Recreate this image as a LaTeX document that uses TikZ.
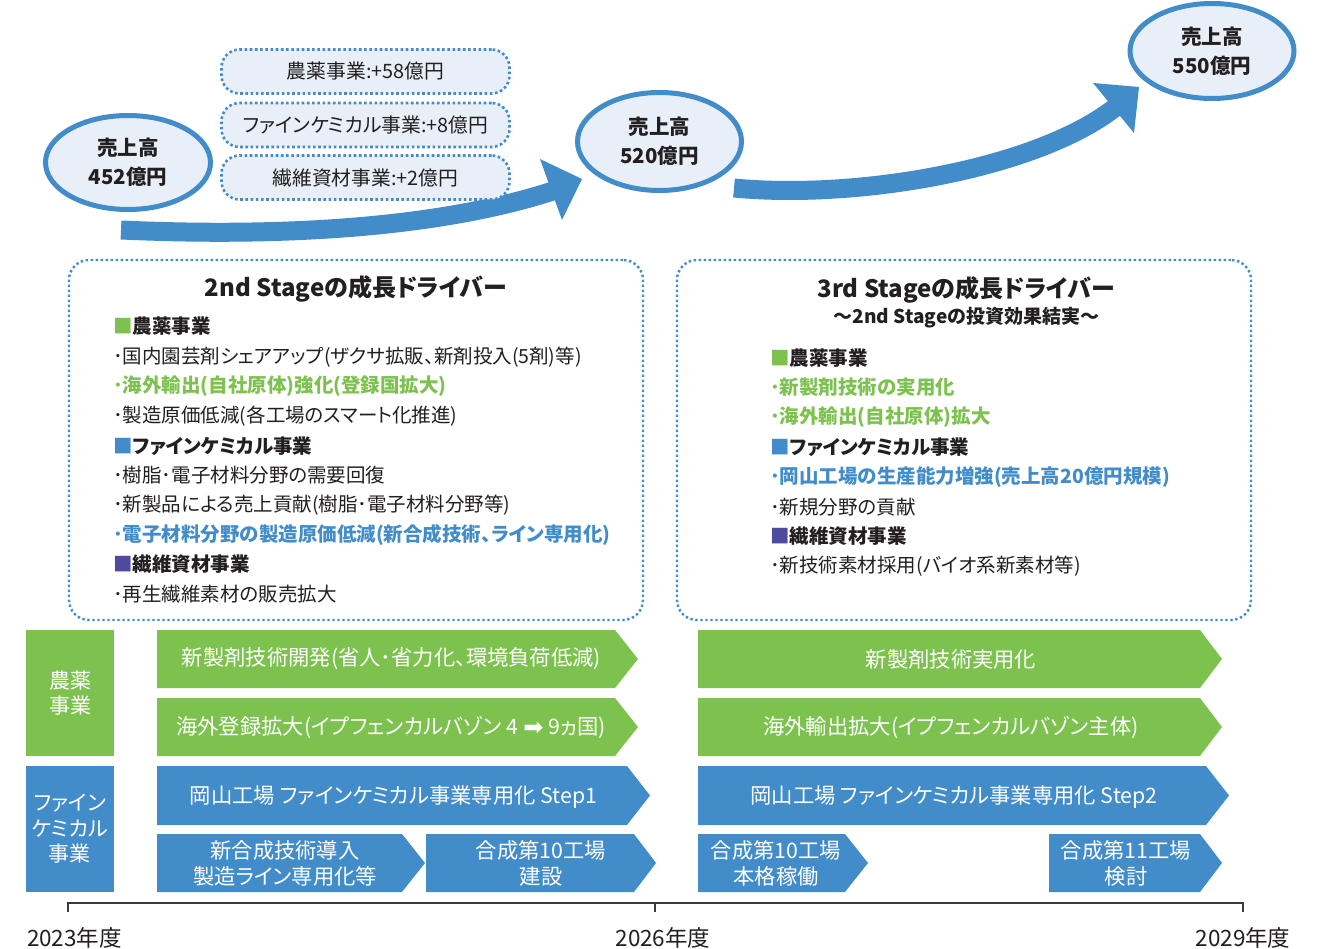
\documentclass[tikz,border=0pt]{standalone}
\usepackage{fontspec}
\setmainfont{Noto Sans CJK JP}[RawFeature={+palt}]
\newfontfamily\dejavu{DejaVu Sans}
\usetikzlibrary{shapes.geometric}
\definecolor{mblue}{HTML}{438CCA}
\definecolor{mgreen}{HTML}{7DC24F}
\definecolor{mpurple}{HTML}{4E4A9E}
\definecolor{lightbg}{HTML}{E8EFF8}
\definecolor{txt}{HTML}{231F20}
\definecolor{axisc}{HTML}{3A3A3A}
\tikzset{
  salesell/.style={ellipse, draw=mblue, line width=5pt, fill=lightbg, inner sep=0pt,
    align=center, text=txt, font=\bfseries\fontsize{20.5}{29}\selectfont},
  deltabox/.style={rectangle, rounded corners=18pt, draw=mblue, fill=lightbg, line width=2.6pt,
    dash pattern=on 2.6pt off 2.6pt, minimum width=288pt, minimum height=44pt,
    text=txt, font=\fontsize{19.8}{23}\selectfont},
  stagebox/.style={rectangle, rounded corners=20pt, draw=mblue, line width=2.4pt,
    dash pattern=on 2.4pt off 2.6pt, minimum width=574pt, minimum height=360pt},
  sttitle/.style={inner sep=0pt, text=txt, font=\bfseries\fontsize{24}{28}\selectfont},
  stsub/.style={inner sep=0pt, text=txt, font=\bfseries\fontsize{19}{23}\selectfont},
  item/.style={anchor=west, inner sep=0pt, text=txt, font=\fontsize{19.5}{24}\selectfont},
  hd/.style={item, font=\bfseries\fontsize{19.5}{24}\selectfont},
  gitem/.style={item, text=mgreen, font=\bfseries\fontsize{19.5}{24}\selectfont},
  bitem/.style={item, text=mblue, font=\bfseries\fontsize{19.5}{24}\selectfont},
  bartext/.style={inner sep=0pt, text=white, align=center, font=\fontsize{21.3}{26}\selectfont},
  labbox/.style={rectangle, minimum width=88pt, minimum height=126pt, inner sep=0pt,
    text=white, align=center, font=\fontsize{21}{25.5}\selectfont},
  yearlab/.style={inner sep=0pt, text=txt, font=\fontsize{22.5}{26}\selectfont},
  shaft/.style={draw=mblue, line width=19pt},
}
\begin{document}
\begin{tikzpicture}[x=1pt,y=-1pt]
\useasboundingbox[fill=white] (0,0) rectangle (1323,949);

% ---- growth arrows ----
\coordinate (a1s) at (121,230);
\coordinate (a1e) at (556,190);
\coordinate (a2s) at (734,188);
\coordinate (a2e) at (1117,106);
\draw[shaft] (a1s) .. controls (300,238) and (450,225) .. (a1e);
\fill[mblue] (540,159) -- (582,179) -- (562,220) -- cycle;
\draw[shaft] (a2s) .. controls (860,200) and (1040,168) .. (a2e);
\fill[mblue] (1093,83) -- (1139,87) -- (1134,133) -- cycle;

% ---- sales ellipses ----
\node[salesell, minimum width=165pt, minimum height=94pt] (s1) at (128,162.5) {売上高\\452億円};
\node[salesell, minimum width=164pt, minimum height=98pt] (s2) at (659.5,141.5) {売上高\\520億円};
\node[salesell, minimum width=164pt, minimum height=95pt] (s3) at (1212,51) {売上高\\550億円};

% ---- delta boxes ----
\node[deltabox] (d1) at (365.5,71.5) {農薬事業:+58億円};
\node[deltabox] (d2) at (365.5,125) {ファインケミカル事業:+8億円};
\node[deltabox] (d3) at (365.5,177.5) {繊維資材事業:+2億円};

% ---- stage boxes ----
\node[stagebox] (st2) at (356,440) {};
\node[stagebox] (st3) at (964,440) {};

\node[sttitle] (t2) at (356,289) {2nd Stageの成長ドライバー};
\node[hd]    (l1) at (113,326) {\textcolor{mgreen}{■}農薬事業};
\node[item]  (l2) at (113,357) {･国内園芸剤シェアアップ(ザクサ拡販、新剤投入(5剤)等)};
\node[gitem] (l3) at (113,386) {･海外輸出(自社原体)強化(登録国拡大)};
\node[item]  (l4) at (113,416) {･製造原価低減(各工場のスマート化推進)};
\node[hd]    (l5) at (113,446) {\textcolor{mblue}{■}ファインケミカル事業};
\node[item]  (l6) at (113,475) {･樹脂･電子材料分野の需要回復};
\node[item]  (l7) at (113,505) {･新製品による売上貢献(樹脂･電子材料分野等)};
\node[bitem] (l8) at (113,535) {･電子材料分野の製造原価低減(新合成技術、ライン専用化)};
\node[hd]    (l9) at (113,564) {\textcolor{mpurple}{■}繊維資材事業};
\node[item]  (l10) at (113,594) {･再生繊維素材の販売拡大};

\node[sttitle] (t3) at (966,290) {3rd Stageの成長ドライバー};
\node[stsub]   (t3s) at (966.5,318) {～2nd Stageの投資効果結実～};
\node[hd]    (r1) at (770,358) {\textcolor{mgreen}{■}農薬事業};
\node[gitem] (r2) at (770,387) {･新製剤技術の実用化};
\node[gitem] (r3) at (770,417) {･海外輸出(自社原体)拡大};
\node[hd]    (r4) at (770,447) {\textcolor{mblue}{■}ファインケミカル事業};
\node[bitem] (r5) at (770,477) {･岡山工場の生産能力増強(売上高20億円規模)};
\node[item]  (r6) at (770,507) {･新規分野の貢献};
\node[hd]    (r7) at (770,536) {\textcolor{mpurple}{■}繊維資材事業};
\node[item]  (r8) at (770,566) {･新技術素材採用(バイオ系新素材等)};

% ---- roadmap labels ----
\node[labbox, fill=mgreen] (lg) at (70,693) {農薬\\事業};
\node[labbox, fill=mblue] (lb) at (70,829) {ファイン\\ケミカル\\事業};

% ---- chevron bars ----
\fill[mgreen] (157,630) -- (615,630) -- (638,659) -- (615,688) -- (157,688) -- cycle;
\node[bartext] (g1) at (391.5,659) {新製剤技術開発(省人･省力化、環境負荷低減)};
\fill[mgreen] (157,698) -- (615,698) -- (638,727) -- (615,756) -- (157,756) -- cycle;
\node[bartext] (g2) at (391,727) {海外登録拡大(イプフェンカルバゾン 4 {\dejavu\fontsize{24}{26}\selectfont\raisebox{-1pt}{➡}} 9ヵ国)};
\fill[mblue] (157,766) -- (627,766) -- (650,795.5) -- (627,825) -- (157,825) -- cycle;
\node[bartext] (b1) at (393.5,797) {岡山工場 ファインケミカル事業専用化 Step1};
\fill[mblue] (157,834) -- (402,834) -- (425,863) -- (402,892) -- (157,892) -- cycle;
\node[bartext] (b2) at (285,863) {新合成技術導入\\製造ライン専用化等};
\fill[mblue] (426,834) -- (634,834) -- (656,863) -- (634,892) -- (426,892) -- cycle;
\node[bartext] (b3) at (541,863) {合成第10工場\\建設};

\fill[mgreen] (698,630) -- (1200,630) -- (1222,659) -- (1200,688) -- (698,688) -- cycle;
\node[bartext] (g3) at (951,659) {新製剤技術実用化};
\fill[mgreen] (698,698) -- (1200,698) -- (1222,727) -- (1200,756) -- (698,756) -- cycle;
\node[bartext] (g4) at (951,727) {海外輸出拡大(イプフェンカルバゾン主体)};
\fill[mblue] (698,766) -- (1206,766) -- (1229,795.5) -- (1206,825) -- (698,825) -- cycle;
\node[bartext] (b4) at (954,797) {岡山工場 ファインケミカル事業専用化 Step2};
\fill[mblue] (698,834) -- (845,834) -- (868,863) -- (845,892) -- (698,892) -- cycle;
\node[bartext] (b5) at (776,863) {合成第10工場\\本格稼働};
\fill[mblue] (1049,834) -- (1200,834) -- (1222,863) -- (1200,892) -- (1049,892) -- cycle;
\node[bartext] (b6) at (1126,863) {合成第11工場\\検討};

% ---- timeline ----
\coordinate (tl) at (68,903);
\coordinate (tm) at (655,903);
\coordinate (tr) at (1243,903);
\draw[axisc, line width=1.5pt] ([yshift=-9pt]tl) -- (tl) -- (tr) -- ([yshift=-9pt]tr);
\draw[axisc, line width=1.5pt] (tm) -- ([yshift=-9pt]tm);
\node[yearlab] (y1) at (74.5,938) {2023年度};
\node[yearlab] (y2) at (663,938) {2026年度};
\node[yearlab] (y3) at (1243,938) {2029年度};
\end{tikzpicture}
\end{document}
